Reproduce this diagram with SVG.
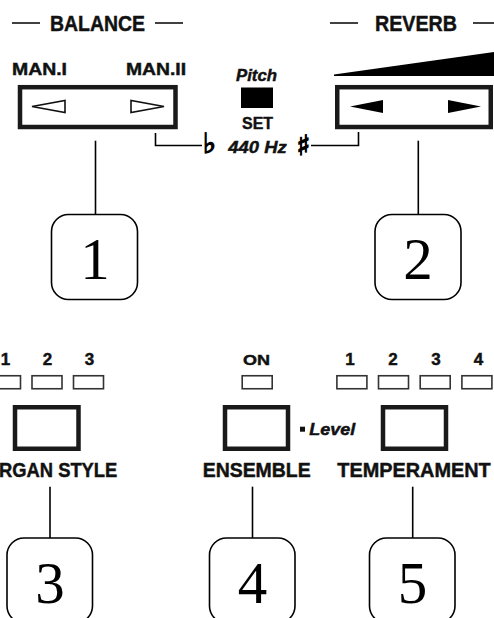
<svg xmlns="http://www.w3.org/2000/svg" width="494" height="618" viewBox="0 0 494 618">
<defs>
<style>
.lbl{font-family:"Liberation Sans",Arial,sans-serif;font-weight:bold;fill:#111;stroke:#111;stroke-width:0.45}
.it{font-style:italic}
.num{font-family:"Liberation Serif","Times New Roman",serif;font-size:59px;fill:#000;text-anchor:middle}
.node{fill:#fff;stroke:#000;stroke-width:1.6}
.lead{stroke:#000;stroke-width:1.6;fill:none}
.btn{fill:#fff;stroke:#1a1a1a;stroke-width:4.5}
.led{fill:#fff;stroke:#333;stroke-width:1.6}
.dash{stroke:#111;stroke-width:1.6}
.sym{font-family:"DejaVu Sans",sans-serif;font-weight:normal;fill:#000;stroke:#000;stroke-width:1.3;text-anchor:middle}
</style>
</defs>
<rect width="494" height="618" fill="#fff"/>

<g id="panel-top">
  <line class="dash" x1="12" y1="23" x2="40" y2="23"/>
  <text class="lbl" x="50" y="31" font-size="22" textLength="95" lengthAdjust="spacingAndGlyphs">BALANCE</text>
  <line class="dash" x1="155" y1="23" x2="183" y2="23"/>
  <line class="dash" x1="330" y1="23" x2="358" y2="23"/>
  <text class="lbl" x="375" y="31" font-size="22" textLength="82" lengthAdjust="spacingAndGlyphs">REVERB</text>
  <line class="dash" x1="473" y1="23" x2="494" y2="23"/>

  <text class="lbl" x="12" y="75" font-size="17" textLength="55" lengthAdjust="spacingAndGlyphs">MAN.I</text>
  <text class="lbl" x="126" y="75" font-size="17" textLength="60" lengthAdjust="spacingAndGlyphs">MAN.II</text>
  <rect class="btn" x="20" y="87.2" width="155.5" height="39.8"/>
  <polygon points="32,106.5 65,100.5 65,112.5" fill="none" stroke="#111" stroke-width="1.6"/>
  <polygon points="164,106.5 131,100.5 131,112.5" fill="none" stroke="#111" stroke-width="1.6"/>

  <text class="lbl it" x="236" y="81" font-size="17" textLength="41" lengthAdjust="spacingAndGlyphs">Pitch</text>
  <rect x="241" y="87.5" width="32" height="20.5" fill="#000"/>
  <text class="lbl" x="242" y="129" font-size="17" textLength="31" lengthAdjust="spacingAndGlyphs">SET</text>
  <polyline class="lead" points="155.5,133 155.5,145.5 202,145.5"/>
  <text class="sym" x="209.5" y="153" font-size="28">♭</text>
  <text class="lbl it" x="228.3" y="153.3" font-size="17" textLength="58.4" lengthAdjust="spacingAndGlyphs">440 Hz</text>
  <text class="sym" x="303.3" y="155" font-size="28">♯</text>
  <polyline class="lead" points="311,145.5 358.5,145.5 358.5,132"/>

  <polygon points="334,76 334,74.5 494,52 494,76" fill="#000"/>
  <rect class="btn" x="337.25" y="87.2" width="153.5" height="39.8"/>
  <polygon points="350,106.5 383,100 383,113" fill="#000"/>
  <polygon points="481,106.5 448,100 448,113" fill="#000"/>
</g>

<g id="panel-bottom">
  <text class="lbl" x="5.5" y="365" font-size="17" text-anchor="middle">1</text>
  <text class="lbl" x="47.5" y="365" font-size="17" text-anchor="middle">2</text>
  <text class="lbl" x="89.5" y="365" font-size="17" text-anchor="middle">3</text>
  <rect class="led" x="-9.5" y="375.75" width="30" height="13"/>
  <rect class="led" x="32" y="375.75" width="30" height="13"/>
  <rect class="led" x="73.5" y="375.75" width="30" height="13"/>
  <rect class="btn" x="15" y="407.25" width="63.5" height="41.5"/>
  <text class="lbl" x="-15.3" y="477.3" font-size="20" textLength="132.6" lengthAdjust="spacingAndGlyphs">ORGAN STYLE</text>

  <text class="lbl" x="256.5" y="365" font-size="15" text-anchor="middle" textLength="27" lengthAdjust="spacingAndGlyphs">ON</text>
  <rect class="led" x="242.2" y="375.75" width="30" height="13"/>
  <rect class="btn" x="225" y="407.25" width="63" height="41.5"/>
  <rect x="300" y="426.7" width="5" height="5" fill="#111"/>
  <text class="lbl it" x="309.3" y="435" font-size="16.5" textLength="46" lengthAdjust="spacingAndGlyphs">Level</text>
  <text class="lbl" x="202.7" y="477.3" font-size="20" textLength="108" lengthAdjust="spacingAndGlyphs">ENSEMBLE</text>

  <text class="lbl" x="350" y="365" font-size="17" text-anchor="middle">1</text>
  <text class="lbl" x="393" y="365" font-size="17" text-anchor="middle">2</text>
  <text class="lbl" x="436" y="365" font-size="17" text-anchor="middle">3</text>
  <text class="lbl" x="478.5" y="365" font-size="17" text-anchor="middle">4</text>
  <rect class="led" x="336.9" y="375.75" width="30" height="13"/>
  <rect class="led" x="378.5" y="375.75" width="30" height="13"/>
  <rect class="led" x="420.2" y="375.75" width="30" height="13"/>
  <rect class="led" x="461.9" y="375.75" width="30" height="13"/>
  <rect class="btn" x="383" y="407.25" width="63" height="41.5"/>
  <text class="lbl" x="337.3" y="477.3" font-size="20" textLength="153.4" lengthAdjust="spacingAndGlyphs">TEMPERAMENT</text>
</g>

<g id="connectors">
  <line class="lead" x1="95.5" y1="140.7" x2="95.5" y2="214.5"/>
  <line class="lead" x1="418.3" y1="140.7" x2="418.3" y2="214.5"/>
  <line class="lead" x1="50" y1="486.7" x2="50" y2="538"/>
  <line class="lead" x1="252.5" y1="486.7" x2="252.5" y2="538"/>
  <line class="lead" x1="412.7" y1="486.7" x2="412.7" y2="538"/>
</g>

<g id="node-1">
  <rect class="node" x="51.5" y="214.5" width="86" height="85" rx="17"/>
  <text class="num" x="95" y="279">1</text>
</g>
<g id="node-2">
  <rect class="node" x="375" y="214.5" width="86" height="85" rx="17"/>
  <text class="num" x="418" y="279">2</text>
</g>
<g id="node-3">
  <rect class="node" x="7" y="538" width="85.5" height="85" rx="17"/>
  <text class="num" x="50" y="602.7">3</text>
</g>
<g id="node-4">
  <rect class="node" x="209.5" y="538" width="85.5" height="85" rx="17"/>
  <text class="num" x="252.5" y="602.7">4</text>
</g>
<g id="node-5">
  <rect class="node" x="369.5" y="538" width="85.5" height="85" rx="17"/>
  <text class="num" x="412.5" y="602.7">5</text>
</g>
</svg>
